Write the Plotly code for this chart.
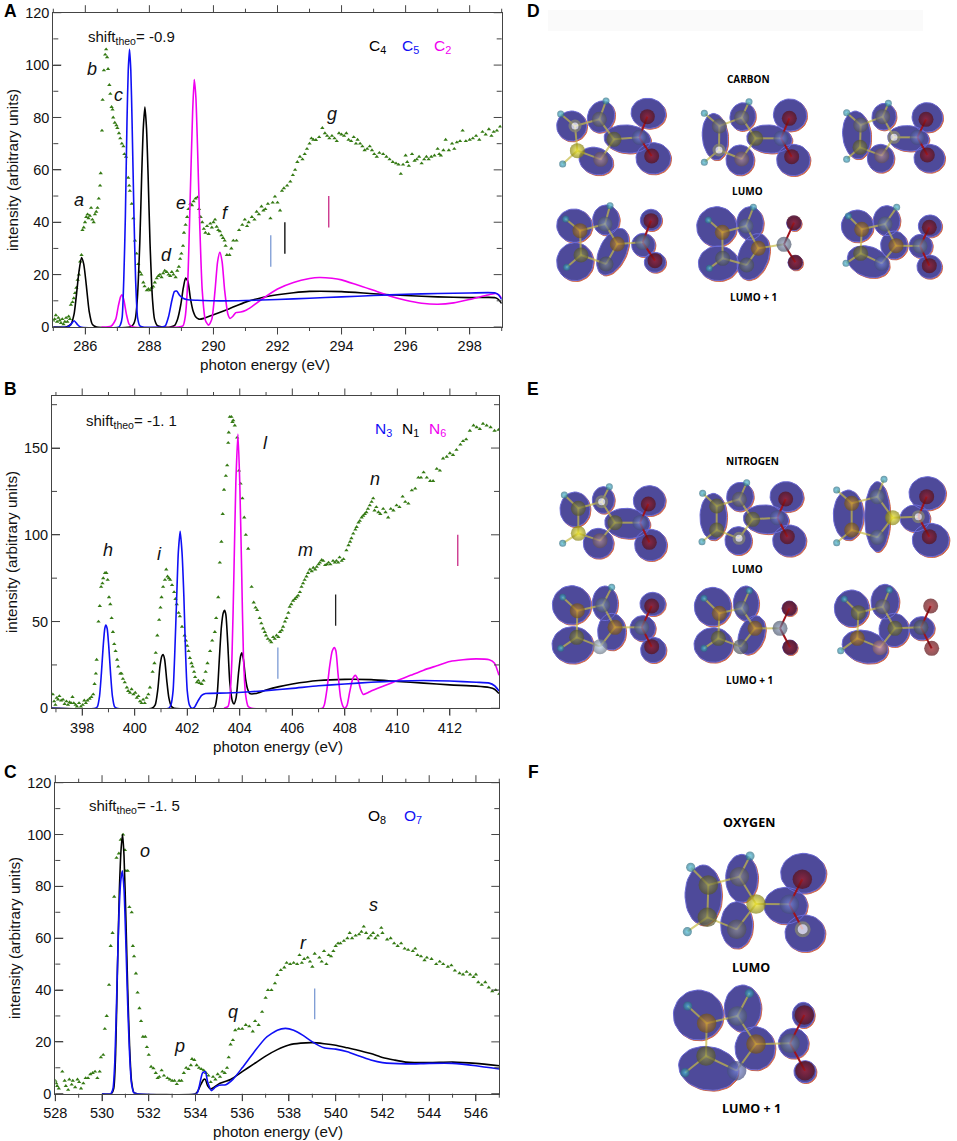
import numpy as np
import plotly.graph_objects as go

W, H = 957, 1141
BLACK, BLUE, MAG, GREEN = "#000000", "#1010f5", "#f000f0", "#357a14"
TK_BLUE, TK_RED = "#7c9bd4", "#c82a86"

# ---------- Panel A (carbon) ----------
A_exp = [(285.0,2.5),(285.04,3),(285.08,4.5),(285.12,2),(285.16,3.5),(285.2,2.5),(285.24,1.5),(285.28,3),(285.32,1),(285.36,2),(285.4,3.5),(285.44,2),(285.48,4),(285.52,3),(285.55,8.5),(285.6,9.5),(285.64,11),(285.68,13),(285.72,15),(285.76,18),(285.8,20),(285.84,25),(285.88,27.5),(285.91,37),(285.95,38),(285.99,40),(286.03,42),(286.07,43),(286.1,41.5),(286.14,42.5),(286.18,45.5),(286.22,41),(286.26,40),(286.3,43),(286.34,44),(286.38,45.5),(286.42,49),(286.46,54),(286.48,58.7),(286.52,75),(286.54,86.7),(286.58,98),(286.62,104),(286.65,106),(286.68,103),(286.71,98.5),(286.75,92.4),(286.78,89),(286.82,84),(286.85,83),(286.87,80),(286.92,78),(286.97,77),(287.0,76),(287.05,74),(287.09,72),(287.14,70),(287.19,69),(287.22,66),(287.27,65),(287.34,57),(287.37,54),(287.39,52),(287.45,47),(287.5,41.5),(287.55,33),(287.6,28),(287.65,24),(287.7,21),(287.75,20),(287.81,17),(287.85,15.5),(287.92,14),(287.97,14.5),(288.02,14),(288.07,15),(288.12,15.4),(288.17,17),(288.23,18.6),(288.28,19.5),(288.33,20),(288.38,19),(288.43,20.5),(288.48,21.5),(288.54,21),(288.6,20),(288.65,19.5),(288.7,21),(288.75,20),(288.82,19),(288.87,21.5),(288.92,23),(288.96,26),(289.0,28),(289.05,31),(289.08,36),(289.13,39),(289.18,42),(289.22,45),(289.28,47),(289.33,46.5),(289.38,48),(289.44,49),(289.5,49.5),(289.55,45),(289.6,42),(289.65,40),(289.7,37.5),(289.75,36),(289.8,38.5),(289.85,35.5),(289.9,39.5),(289.95,38),(290.0,40),(290.05,41),(290.1,38.3),(290.15,37),(290.2,36.5),(290.25,35),(290.3,34),(290.35,33),(290.38,31),(290.42,27.5),(290.5,27.5),(290.56,30),(290.62,33),(290.72,33),(290.8,37),(290.9,39),(290.98,41),(291.05,38.5),(291.1,40),(291.2,42),(291.28,41),(291.35,44),(291.42,43),(291.5,46),(291.56,44.5),(291.62,45),(291.7,47),(291.78,41.5),(291.85,47.5),(291.92,49.8),(292.0,47.5),(292.08,44.5),(292.14,52),(292.2,53),(292.3,54),(292.4,55.5),(292.48,58),(292.55,60),(292.62,63),(292.7,65),(292.78,64),(292.85,66),(292.92,68),(293.0,70),(293.06,72),(293.12,71.5),(293.2,71.4),(293.3,72.5),(293.4,76),(293.48,74),(293.55,73),(293.62,72),(293.7,73),(293.78,72),(293.85,71),(293.92,74),(294.0,73.5),(294.08,73),(294.15,74),(294.22,71.5),(294.3,71),(294.38,72.5),(294.45,70),(294.5,71.5),(294.58,70),(294.65,69),(294.72,67.5),(294.8,68),(294.88,69),(294.95,67.5),(295.02,66),(295.1,65),(295.18,66.5),(295.3,66),(295.4,65),(295.5,64),(295.6,63),(295.7,62.5),(295.78,62),(295.85,58.5),(295.92,62),(296.0,65.5),(296.05,63),(296.1,61.5),(296.2,66),(296.28,63.5),(296.35,64),(296.42,65),(296.5,62.5),(296.58,64),(296.65,65),(296.72,64),(296.8,65),(296.9,65.5),(297.0,68),(297.05,66),(297.1,65.5),(297.18,67.5),(297.25,71.5),(297.35,67.5),(297.45,70),(297.52,68),(297.6,70.5),(297.7,71),(297.78,75),(297.88,71),(298.0,71.5),(298.1,72),(298.2,73),(298.3,71.5),(298.4,74.5),(298.5,73.5),(298.6,75.5),(298.68,73),(298.75,74.5),(298.85,75),(298.95,76.5)]
A_C4 = [(285,0),(285.4,0),(285.55,1),(285.65,5),(285.72,12),(285.8,21),(285.88,26.5),(285.95,24),(286.03,16),(286.12,6),(286.22,1),(286.35,0),(287.4,0),(287.5,1),(287.56,3),(287.62,10),(287.7,32),(287.76,58),(287.81,76),(287.86,84),(287.91,76),(287.96,58),(288.02,32),(288.1,10),(288.16,3),(288.25,.5),(288.4,0),(288.65,0),(288.78,.5),(288.88,3),(288.98,8.5),(289.06,15),(289.13,18.7),(289.2,17.5),(289.28,11),(289.36,6.3),(289.45,3.8),(289.55,3),(289.7,3.3),(290,4.7),(290.5,7),(291,9.5),(291.5,11.2),(292,12.3),(292.5,13.1),(293,13.6),(294,13.5),(295,12.7),(296,12),(297,11.5),(298,11.2),(298.8,11.2),(298.9,10.5),(299,9)]
A_C5 = [(285,0),(285.45,0),(285.55,1),(285.65,2.4),(285.75,1),(285.85,0),(287.05,0),(287.1,1),(287.15,3.7),(287.2,18),(287.25,42),(287.3,78),(287.34,98),(287.38,106),(287.42,98),(287.46,78),(287.52,42),(287.57,18),(287.63,3.7),(287.7,.5),(287.8,0),(288.4,0),(288.5,.5),(288.6,4),(288.7,10),(288.78,13.5),(288.85,13.7),(288.95,12),(289.05,11),(289.2,10.4),(289.5,10.2),(290,10),(291,10.1),(292,10.5),(293,11),(294,11.5),(295,12),(296,12.5),(297,12.8),(298,13),(298.8,13),(298.9,12.3),(299,10.5)]
A_C2 = [(286.5,0),(286.8,.3),(286.95,3),(287.03,8),(287.1,11.5),(287.14,12.3),(287.2,10.5),(287.28,5),(287.37,1),(287.5,0),(288.9,0),(289.05,.5),(289.12,4),(289.2,18),(289.28,52),(289.35,82),(289.4,94.5),(289.45,88),(289.5,70),(289.57,40),(289.65,14),(289.75,2.5),(289.85,.7),(289.95,3),(290.05,14),(290.13,25),(290.2,28.5),(290.27,25),(290.35,14),(290.45,5),(290.52,3.3),(290.6,4),(290.7,5.5),(290.85,5.7),(291,6.3),(291.2,7.8),(291.5,10.5),(292,14.5),(292.5,17),(293,18.5),(293.3,18.9),(293.7,18.6),(294,18),(294.5,16),(295,14),(295.5,11.8),(296,10.2),(296.5,9.1),(297,8.7),(297.5,9.2),(298,10.5),(298.5,12),(298.8,12.8),(298.9,12.3),(299,11)]
A_marks = [(291.79,23,35,TK_BLUE),(292.23,28,40,BLACK),(293.6,38,50,TK_RED)]
A_letters = [("a",285.81,48.5),("b",286.2,98.4),("c",287.03,88.6),("d",288.52,27.5),("e",289.0,47.2),("f",290.39,43.4),("g",293.69,81.3)]

# ---------- Panel B (nitrogen) ----------
B_exp = [(396.88,8),(396.93,4),(396.98,2),(397.03,6),(397.08,5),(397.13,7),(397.2,4.5),(397.27,5),(397.33,2.5),(397.4,4),(397.46,2),(397.52,3.5),(397.58,3),(397.63,6.5),(397.68,3),(397.75,2),(397.8,1),(397.88,3),(397.95,1),(398.02,2),(398.08,4.5),(398.14,3),(398.2,4.5),(398.28,5.5),(398.35,6.5),(398.42,8),(398.47,14),(398.52,20),(398.55,28),(398.62,50),(398.67,59),(398.72,70),(398.77,72),(398.8,75),(398.87,78),(398.92,78),(398.97,74),(399.02,64),(399.07,60),(399.12,52),(399.17,44),(399.22,37),(399.27,33),(399.33,28),(399.37,24),(399.45,20),(399.5,20),(399.55,17),(399.62,15),(399.7,12),(399.75,10),(399.82,9),(399.88,11),(399.95,8),(400.02,9),(400.08,6),(400.14,7),(400.2,4),(400.26,3),(400.32,5),(400.38,3),(400.45,6),(400.52,8),(400.58,12),(400.68,21),(400.75,26),(400.8,32),(400.86,42),(400.93,51),(400.98,58),(401.02,64),(401.08,70),(401.15,74),(401.2,80),(401.25,76),(401.3,75),(401.35,74),(401.42,71),(401.5,67),(401.55,63),(401.6,60),(401.67,55),(401.72,53),(401.8,47),(401.9,42),(401.95,39),(402.0,36),(402.05,33),(402.1,29),(402.16,26),(402.2,24),(402.26,21),(402.3,18),(402.37,15),(402.42,16),(402.47,14.5),(402.55,14),(402.62,16),(402.7,21),(402.77,26),(402.87,33),(402.95,39),(403.05,44),(403.1,52),(403.18,64),(403.24,84),(403.3,96),(403.35,112),(403.4,126),(403.47,134),(403.52,140),(403.56,153),(403.58,159),(403.62,168),(403.68,168),(403.72,165),(403.75,166),(403.81,163),(403.9,156),(403.97,137),(404.03,129.5),(404.1,121),(404.17,110),(404.23,100),(404.32,92),(404.45,70),(404.53,61),(404.6,58),(404.66,56.6),(404.76,52),(404.82,49),(404.89,46),(404.95,44),(405,42),(405.07,40),(405.15,39),(405.2,38),(405.27,41),(405.33,40),(405.4,42),(405.47,41),(405.53,44),(405.6,45),(405.65,47),(405.72,50),(405.78,52),(405.85,55),(405.9,58.5),(405.96,60),(406.03,62),(406.1,63),(406.16,64),(406.22,65),(406.29,67),(406.35,70),(406.41,72),(406.47,74),(406.54,76),(406.6,78),(406.67,80),(406.74,79),(406.8,81),(406.87,80),(406.93,81.5),(407.0,83),(407.05,84),(407.12,85.5),(407.18,85),(407.25,82.5),(407.32,83),(407.38,84),(407.45,83),(407.55,85),(407.62,84),(407.68,85),(407.75,84),(407.8,87),(407.88,85),(407.95,86),(408.06,91),(408.14,94),(408.2,96),(408.25,98),(408.32,100.7),(408.4,103),(408.45,104.5),(408.52,107),(408.57,108),(408.64,110),(408.7,111),(408.76,112),(408.82,113),(408.88,115),(408.95,117),(409.02,119),(409.08,121),(409.13,114),(409.2,116),(409.28,113),(409.35,112),(409.46,115),(409.55,113),(409.65,110),(409.75,115),(409.85,114),(409.97,117),(410.08,116),(410.2,122),(410.3,119),(410.42,118),(410.55,125.6),(410.68,126.6),(410.8,133),(410.9,133),(411,136),(411.12,133),(411.25,131),(411.36,131),(411.5,138),(411.62,137),(411.74,144),(411.88,145),(412.0,147),(412.12,146),(412.25,149),(412.4,152),(412.5,154),(412.62,155),(412.76,160),(412.9,163),(413.02,162),(413.14,161),(413.26,164),(413.4,163),(413.55,162),(413.7,160),(413.85,160.5)]
B_N3 = [(396.85,0),(398.5,0),(398.58,1),(398.66,7),(398.73,20),(398.8,36),(398.86,46),(398.9,48),(398.95,46),(399.01,36),(399.08,20),(399.15,7),(399.23,1),(399.32,0),(401.3,0),(401.38,2),(401.46,10),(401.52,30),(401.6,65),(401.66,90),(401.73,102),(401.8,90),(401.87,65),(401.94,30),(402.0,10),(402.08,2),(402.18,0),(402.27,.5),(402.4,4),(402.55,7.5),(402.7,8.5),(403.5,8.8),(404.4,9.5),(405,10.2),(406,11.5),(407,13),(408,14),(409,15),(410,15.7),(411,16),(412,15.7),(413,15),(413.5,14.5),(413.7,13),(413.87,10)]
B_N1 = [(396.85,0),(400.65,0),(400.78,2),(400.88,11),(400.96,24),(401.03,30),(401.08,31),(401.14,28),(401.22,16),(401.3,6),(401.4,1),(401.5,0),(403.0,0),(403.06,1),(403.14,8),(403.22,28),(403.3,47),(403.37,55),(403.42,56.5),(403.47,54),(403.54,38),(403.62,15),(403.72,4),(403.78,2.5),(403.86,6),(403.95,20),(404.03,30),(404.08,32),(404.14,28),(404.22,17),(404.3,11),(404.38,8.5),(404.6,8.5),(405,10.5),(405.5,12.5),(406,14),(407,16),(408,16.7),(409,16.5),(410,15.5),(411,14.5),(412,13.5),(413,12.8),(413.5,12),(413.7,11),(413.87,8.5)]
B_N6 = [(403.4,0),(403.55,1),(403.62,6),(403.7,28),(403.78,80),(403.85,130),(403.93,158),(404.0,130),(404.07,80),(404.14,30),(404.22,8),(404.32,1),(404.45,0),(407.15,0),(407.22,2),(407.32,11),(407.42,24),(407.52,33),(407.6,35),(407.66,33),(407.74,20),(407.84,6),(407.94,.8),(408.0,0),(408.08,1.5),(408.18,9),(408.3,17),(408.4,19),(408.5,16.5),(408.6,11),(408.7,8),(408.85,8.8),(409,10),(409.5,13),(410,16),(410.5,19),(411,22),(411.5,24.5),(412,27),(412.5,28),(413,28.5),(413.5,28),(413.7,26),(413.87,19)]
B_marks = [(405.45,17,35,TK_BLUE),(407.65,47.6,65.6,"#222222"),(412.3,82,100,TK_RED)]
B_letters = [("h",398.99,91),("i",400.93,89),("l",404.98,153),("m",406.52,91),("n",409.14,132)]

# ---------- Panel C (oxygen) ----------
C_exp = [(528,5),(528.04,4),(528.08,3),(528.15,2),(528.3,8.5),(528.4,5),(528.45,3),(528.55,1.5),(528.6,5.5),(528.7,3.5),(528.75,5),(528.85,2.5),(528.95,5.5),(529.02,4.5),(529.1,2),(529.2,4),(529.3,6),(529.4,6),(529.5,7.5),(529.6,8),(529.7,8.5),(529.8,6),(529.9,8.5),(529.95,14),(530.05,15),(530.12,25),(530.2,30),(530.3,42),(530.37,57),(530.45,62),(530.52,76),(530.62,91),(530.72,92.7),(530.8,98),(530.9,100),(530.98,94),(531.02,86),(531.1,86),(531.17,72),(531.27,70),(531.32,57),(531.37,53),(531.45,46.4),(531.52,39),(531.6,33),(531.67,28),(531.75,22),(531.85,22),(531.92,18),(532,15),(532.1,10.4),(532.2,9.8),(532.3,8),(532.38,6),(532.45,6.5),(532.55,9),(532.65,7),(532.8,6),(532.9,5.5),(533,5),(533.1,5),(533.2,3.7),(533.3,5),(533.4,5),(533.5,8),(533.6,10),(533.7,9.5),(533.8,11),(533.85,13.4),(533.95,13),(534.05,11),(534.15,10),(534.25,9.5),(534.35,9),(534.45,8),(534.55,7),(534.65,4.5),(534.75,6.5),(534.85,5.5),(534.95,7.5),(535.05,6.5),(535.15,8.5),(535.25,8),(535.35,10),(535.42,14),(535.5,19),(535.6,20.7),(535.7,24.5),(535.85,25),(536,25),(536.15,26.5),(536.3,26),(536.45,24),(536.55,28),(536.7,26.5),(536.85,31.6),(537,37),(537.1,40),(537.25,40),(537.4,42.6),(537.5,45.8),(537.65,47.7),(537.8,48.7),(537.9,50.5),(538.05,50),(538.2,50.5),(538.35,50),(538.45,53.5),(538.55,50.5),(538.65,52),(538.8,52.5),(538.9,51),(539.0,49),(539.1,54),(539.3,52.5),(539.4,51),(539.5,55),(539.6,50),(539.7,53.5),(539.8,53),(539.9,55),(540,57),(540.1,58),(540.2,58),(540.35,59),(540.5,60),(540.6,62),(540.7,60),(540.85,61),(541,61.5),(541.1,62.5),(541.2,64.5),(541.3,62),(541.4,60),(541.5,61),(541.6,62),(541.7,60),(541.8,61),(541.95,64),(542,62),(542.2,59.5),(542.35,60),(542.5,58),(542.65,57),(542.8,58),(542.95,56),(543.1,55.5),(543.3,55),(543.4,56),(543.5,53.5),(543.65,53),(543.8,51.5),(543.9,52.5),(544.1,52),(544.3,50),(544.45,51),(544.6,50),(544.8,49),(544.95,49.5),(545.1,47.5),(545.3,46.5),(545.45,46),(545.6,47),(545.75,46),(545.9,45),(546,46),(546.1,43),(546.25,42),(546.4,43),(546.55,41),(546.7,39.5),(546.85,40),(547,38.5)]
C_O8 = [(530,0),(530.4,0),(530.5,2),(530.58,15),(530.66,48),(530.74,78),(530.82,95),(530.88,100),(530.94,92),(531.02,68),(531.1,40),(531.18,18),(531.26,5),(531.36,.5),(531.5,0),(534,0),(534.1,1),(534.2,3),(534.35,5.5),(534.42,5.5),(534.52,3),(534.65,1.8),(534.8,2.5),(535,3.8),(535.5,5.5),(536,8.5),(536.5,11.5),(537,14.5),(537.5,17),(538,18.8),(538.5,19.5),(539,19.7),(539.5,19.3),(540,18.7),(540.5,17.7),(541,16.7),(541.5,15.5),(542,14),(542.5,13),(543,12.2),(544,12),(545,12.2),(546,11.7),(547,10.8)]
C_O7 = [(530,0),(530.38,0),(530.47,2),(530.55,13),(530.64,42),(530.72,68),(530.8,82),(530.87,86),(530.94,79),(531.02,58),(531.1,34),(531.18,15),(531.26,4),(531.36,.4),(531.5,0),(534.05,0),(534.15,2.5),(534.3,8),(534.42,8.5),(534.52,4.5),(534.68,1.2),(534.85,2.5),(535,3.3),(535.3,3.5),(535.6,5.5),(536,10),(536.5,16),(537,21.5),(537.5,24.5),(537.85,25.2),(538.2,24.5),(538.6,22.5),(539,20),(539.5,17.7),(540,17.2),(540.5,16.2),(541,14.5),(541.5,13),(542,12),(543,11.5),(544,11.7),(545,11.7),(546,10.8),(547,9.5)]
C_marks = [(539.1,28.7,40.6,TK_BLUE)]
C_letters = [("o",531.84,93.8),("p",533.3,18.4),("q",535.6,31.6),("r",538.6,58),("s",541.6,72.8)]

# ---------- Molecule illustrations (1/3 px units from each panel's origin) ----------
ATOM = {"H":"#4fc4e6","o":"#9a9a50","g":"#96969c","p":"#b8949f","b":"#7c8ce4","s":"#8a9cc0","r":"#a01820",
        "O":"#d09430","y":"#f0e820","w":"#ffffff","l":"#bcd2ec","k":"#e8a8b0","v":"#828c98"}
MOLS_D = [
 ([(155,378,45,45,0),(243,350,40,48,20),(228,483,52,40,20),(322,417,70,42,5),(385,340,52,45,10),(400,475,52,47,0)],
  [(122,342,"H"),(165,378,"w"),(172,452,"y"),(128,492,"H"),(238,358,"g"),(258,303,"H"),(242,478,"p"),(282,418,"o"),(358,412,"b"),(382,350,"r"),(395,468,"r")]),
 ([(585,410,38,70,-5),(668,350,38,42,15),(660,480,42,45,0),(748,417,68,42,5),(810,345,50,48,15),(820,480,50,47,0)],
  [(553,340,"H"),(598,378,"g"),(597,450,"w"),(553,487,"H"),(665,353,"g"),(687,305,"H"),(665,477,"p"),(707,415,"o"),(783,415,"b"),(808,355,"r"),(815,470,"r")]),
 ([(1010,405,42,72,-5),(1092,350,36,40,10),(1082,475,40,42,0),(1165,415,62,38,5),(1222,352,46,44,15),(1228,475,46,42,0)],
  [(980,338,"H"),(1022,375,"g"),(1020,442,"o"),(980,478,"H"),(1088,350,"g"),(1105,310,"H"),(1085,467,"p"),(1122,412,"w"),(1192,412,"b"),(1218,358,"r"),(1222,465,"r")]),
 ([(163,677,53,50,10),(258,660,40,45,0),(165,785,55,57,0),(278,755,40,75,25),(370,735,35,35,0),(393,660,32,32,0),(405,787,32,30,0)],
  [(137,657,"H"),(180,692,"O"),(183,765,"o"),(140,802,"H"),(255,672,"s"),(270,617,"H"),(258,792,"v"),(292,732,"O"),(368,727,"s"),(393,662,"r"),(405,782,"r")]),
 ([(590,680,60,60,0),(690,670,40,50,0),(595,790,60,52,0),(700,770,45,72,20),(822,670,22,22,0),(826,788,22,22,0)],
  [(565,660,"H"),(607,697,"O"),(608,775,"v"),(568,805,"H"),(678,678,"s"),(700,622,"H"),(680,795,"v"),(715,745,"O"),(792,733,"s"),(822,668,"r"),(826,787,"r")]),
 ([(1012,678,48,48,0),(1100,662,40,45,0),(1045,785,65,45,20),(1122,735,40,42,0),(1202,738,35,35,0),(1230,678,35,33,0),(1228,800,37,35,0)],
  [(985,648,"H"),(1025,688,"O"),(1022,760,"o"),(978,790,"H"),(1095,672,"s"),(1130,622,"H"),(1085,790,"b"),(1128,737,"O"),(1200,738,"s"),(1228,682,"r"),(1228,797,"r")]),
]
MOLS_E = [
 ([(165,388,45,52,0),(250,360,33,40,0),(235,490,45,45,0),(322,430,68,45,5),(388,362,48,45,0),(392,495,48,47,0)],
  [(133,345,"H"),(175,385,"o"),(175,460,"y"),(128,490,"H"),(245,365,"w"),(268,320,"H"),(240,482,"p"),(285,428,"o"),(360,428,"b"),(385,372,"r"),(388,487,"r")]),
 ([(580,410,40,70,0),(660,350,40,43,10),(655,482,40,42,0),(738,418,68,43,5),(800,350,50,45,10),(808,482,50,47,0)],
  [(548,340,"H"),(590,378,"o"),(590,450,"o"),(546,485,"H"),(658,358,"g"),(680,308,"H"),(657,475,"w"),(698,418,"o"),(772,413,"b"),(797,357,"r"),(802,470,"r")]),
 ([(985,405,45,75,0),(1072,410,38,105,0),(1185,415,45,40,0),(1222,340,55,50,0),(1232,480,55,50,0)],
  [(950,330,"H"),(995,370,"O"),(995,450,"O"),(950,488,"H"),(1072,350,"s"),(1092,298,"H"),(1072,472,"s"),(1118,413,"y"),(1195,410,"w"),(1220,350,"r"),(1228,470,"r")]),
 ([(155,675,58,58,0),(255,670,38,52,0),(158,795,62,55,0),(275,755,42,55,0),(368,745,38,38,0),(398,672,38,35,0),(400,810,38,38,0)],
  [(128,652,"H"),(172,692,"O"),(170,772,"o"),(122,805,"H"),(248,675,"s"),(275,622,"H"),(240,800,"l"),(285,742,"O"),(365,742,"s"),(395,678,"r"),(395,800,"r")]),
 ([(578,680,55,58,0),(678,670,38,52,0),(580,795,58,52,0),(695,765,38,60,20),(808,685,22,22,0),(810,802,22,22,0)],
  [(552,655,"H"),(598,700,"O"),(595,775,"o"),(552,805,"H"),(665,685,"s"),(688,632,"H"),(662,800,"v"),(705,745,"O"),(780,745,"s"),(808,685,"r"),(810,802,"r")]),
 ([(995,685,52,55,0),(1095,665,42,52,0),(1035,800,70,48,15),(1122,750,45,50,0),(1205,745,38,35,0)],
  [(973,657,"H"),(1015,698,"o"),(1012,775,"O"),(962,812,"H"),(1088,680,"g"),(1108,630,"H"),(1080,803,"k"),(1125,745,"o"),(1203,742,"v"),(1232,678,"r"),(1235,805,"r")]),
]
MOLS_F = [
 ([(250,405,55,90,0),(365,355,48,72,0),(350,495,48,70,0),(497,437,65,55,0),(550,340,68,60,0),(555,520,60,55,0)],
  [(212,322,"H"),(265,375,"o"),(262,472,"o"),(202,515,"H"),(358,350,"g"),(390,288,"H"),(350,508,"g"),(408,432,"y"),(508,433,"b"),(547,358,"r"),(548,508,"w")]),
 ([(235,765,75,75,0),(368,745,55,70,0),(265,925,90,65,10),(405,865,60,65,0),(520,850,45,45,0),(550,765,33,38,0),(555,935,33,33,0)],
  [(203,738,"H"),(260,790,"O"),(258,888,"o"),(195,938,"H"),(352,768,"s"),(388,700,"H"),(350,932,"b"),(408,852,"O"),(510,850,"s"),(553,765,"r"),(555,932,"r")]),
]
BONDS = [(0,1),(1,2),(2,3),(1,4),(4,5),(2,6),(4,7),(6,7),(7,8)]
O_BONDS = [(8,9),(8,10)]
PAGE_TEXT = [("CARBON",748,79,10),("LUMO",747,191,10),("LUMO + 1",753,297,10),
             ("NITROGEN",752,461,10),("LUMO",747,569,10),("LUMO + 1",749,680,10),
             ("OXYGEN",749,822,12.5),("LUMO",751,967,12.5),("LUMO + 1",751,1108,12.5)]

fig = go.Figure()

def unz(pts):
    return [p[0] for p in pts], [p[1] for p in pts]

def add_panel(n, exp, curves, marks, letters):
    sfx = "" if n == 1 else str(n)
    xa, ya = f"x{sfx}", f"y{sfx}"
    ex, ey = unz(exp)
    fig.add_trace(go.Scatter(x=ex, y=ey, mode="markers", xaxis=xa, yaxis=ya, showlegend=False, hoverinfo="skip",
                             marker=dict(symbol="triangle-up", size=3.8, color=GREEN, line=dict(width=0))))
    for pts, col in curves:
        cx, cy = unz(pts)
        fig.add_trace(go.Scatter(x=cx, y=cy, mode="lines", xaxis=xa, yaxis=ya, showlegend=False, hoverinfo="skip",
                                 line=dict(color=col, width=1.6, shape="spline", smoothing=0.6)))
    for mx, y0, y1, col in marks:
        fig.add_trace(go.Scatter(x=[mx, mx], y=[y0, y1], mode="lines", xaxis=xa, yaxis=ya, showlegend=False,
                                 hoverinfo="skip", line=dict(color=col, width=1.3)))
    for t, lx, ly in letters:
        fig.add_annotation(x=lx, y=ly, xref=xa, yref=ya, text=f"<i>{t}</i>", showarrow=False,
                           font=dict(family="Liberation Sans", size=18, color="#111111"))

add_panel(1, A_exp, [(A_C4, BLACK), (A_C2, MAG), (A_C5, BLUE)], A_marks, A_letters)
add_panel(2, B_exp, [(B_N1, BLACK), (B_N6, MAG), (B_N3, BLUE)], B_marks, B_letters)
add_panel(3, C_exp, [(C_O8, BLACK), (C_O7, BLUE)], C_marks, C_letters)

FRAME = "#444444"
def style_axes(n, xr, yr, ypx, xpx, ydtick, yminor, xdtick=2):
    tick = dict(family="Liberation Sans", size=14.5, color="#111111")
    sfx = "" if n == 1 else str(n)
    fig.update_layout(**{
        f"xaxis{sfx}": dict(anchor=f"y{sfx}", showline=True, linecolor=FRAME, linewidth=1, mirror=True, tickfont=tick,
                            domain=[xpx[0]/W, xpx[1]/W], range=xr, dtick=xdtick, tick0=0, ticks="outside", ticklen=6,
                            tickwidth=1, tickcolor=FRAME, showgrid=False, zeroline=False),
        f"yaxis{sfx}": dict(anchor=f"x{sfx}", showline=True, linecolor=FRAME, linewidth=1, mirror=True, tickfont=tick,
                            domain=[1-ypx[1]/H, 1-ypx[0]/H], range=yr, dtick=ydtick, tick0=0, ticks="inside", ticklen=8,
                            tickwidth=1, tickcolor=FRAME, showgrid=False, zeroline=False),
    })
    # frame ticks on all four edges, from the panel's own scale
    X, Y = [], []
    def sx(v): return xpx[0] + (v - xr[0]) / (xr[1] - xr[0]) * (xpx[1] - xpx[0])
    def sy(v): return ypx[1] - (v - yr[0]) / (yr[1] - yr[0]) * (ypx[1] - ypx[0])
    for v in np.arange(np.ceil(xr[0]), xr[1] + 1e-6, 1.0):
        ln = 7.5 if v % xdtick == 0 else 4
        px = sx(v)
        X += [px, px, None, px, px, None]
        Y += [ypx[1], ypx[1] + ln, None, ypx[0], ypx[0] - ln, None]
    for v in np.arange(yr[0], yr[1] + 1e-6, yminor):
        ln = 8 if v % ydtick == 0 else 5
        py = sy(v)
        X += [xpx[0], xpx[0] + ln, None, xpx[1], xpx[1] - ln, None]
        Y += [py, py, None, py, py, None]
    fig.add_trace(go.Scatter(x=X, y=Y, mode="lines", xaxis="x4", yaxis="y4", showlegend=False, hoverinfo="skip",
                             line=dict(color=FRAME, width=1)))

# page-level axis in pixels, for the illustrations, frame ticks and page text
fig.update_layout(xaxis4=dict(domain=[0, 1], range=[0, W], visible=False, anchor="y4"),
                  yaxis4=dict(domain=[0, 1], range=[H, 0], visible=False, anchor="x4"))

style_axes(1, [285, 299], [0, 120], (12.7, 327), (53.3, 501.7), 20, 10)
style_axes(2, [396.85, 413.87], [0, 180], (396, 708.3), (52, 499), 50, 25)
style_axes(3, [528, 547], [0, 120], (782.7, 1093.7), (55.3, 499.3), 20, 10)

def ellipse(cx, cy, rx, ry, ang, ox, oy, dx=0, dy=0):
    t = np.linspace(0, 2*np.pi, 40)
    a = np.deg2rad(ang)
    ex, ey = rx*np.cos(t), ry*np.sin(t)
    return (ox + (cx + ex*np.cos(a) - ey*np.sin(a))/3 + dx).tolist() + [None], \
           (oy + (cy + ex*np.sin(a) + ey*np.cos(a))/3 + dy).tolist() + [None]

def dark(hexcol, f=0.55):
    r, g, b = int(hexcol[1:3], 16), int(hexcol[3:5], 16), int(hexcol[5:7], 16)
    return f"rgb({int(r*f)},{int(g*f)},{int(b*f)})"

def add_mols(mols, ox, oy, k=1.0):
    for lobes, atoms in mols:
        for dx, dy, col, lc in ((0.9, 0.9, "#d0684a", "#d0684a"), (0, 0, "#4e4a9a", "#6a6ad6")):
            X, Y = [], []
            for l in lobes:
                a, b = ellipse(*l, ox, oy, dx, dy)
                X += a; Y += b
            fig.add_trace(go.Scatter(x=X, y=Y, mode="lines", fill="toself", fillcolor=col, xaxis="x4", yaxis="y4",
                                     line=dict(color=lc, width=1), showlegend=False, hoverinfo="skip"))
        ax = [ox + p[0]/3 for p in atoms]
        ay = [oy + p[1]/3 for p in atoms]
        for bonds, col in ((BONDS, "rgba(200,188,70,0.7)"), (O_BONDS, "#a0141c")):
            X, Y = [], []
            for i, j in bonds:
                X += [ax[i], ax[j], None]; Y += [ay[i], ay[j], None]
            fig.add_trace(go.Scatter(x=X, y=Y, mode="lines", xaxis="x4", yaxis="y4",
                                     line=dict(color=col, width=2), showlegend=False, hoverinfo="skip"))
        codes = [p[2] for p in atoms]
        fig.add_trace(go.Scatter(x=ax, y=ay, mode="markers", xaxis="x4", yaxis="y4", showlegend=False, hoverinfo="skip",
                                 marker=dict(color=[ATOM[c] if c == "w" else dark(ATOM[c]) for c in codes],
                                             gradient=dict(type="radial", color=[ATOM[c] for c in codes]),
                                             size=[7*k if c == "H" else (10*k if c == "w" else 15*k) for c in codes],
                                             line=dict(color=["#8a8a70" if c == "w" else "rgba(0,0,0,0)" for c in codes],
                                                       width=[3 if c == "w" else 0 for c in codes]))))

add_mols(MOLS_D, 520, 0)
add_mols(MOLS_E, 520, 380)
add_mols(MOLS_F, 620, 760, 1.3)

def page_text(t, x, y, size, color="#111111", fam="Liberation Sans", anchor="center", angle=0):
    fig.add_annotation(x=x, y=y, xref="x4", yref="y4", text=t, showarrow=False, xanchor=anchor, textangle=angle,
                       font=dict(family=fam, size=size, color=color))

for t, x, y, s in PAGE_TEXT:
    page_text(f"<b>{t}</b>", x, y, s, color="#000000", fam="Open Sans")

for t, x, y in (("A",10,11),("B",10,389),("C",10,772),("D",533,11),("E",533,389),("F",533,772)):
    page_text(f"<b>{t}</b>", x, y, 17.5, color="#000000")

page_text("intensity (arbitrary units)", 12, 170, 15.2, angle=-90)
page_text("intensity (arbitrary units)", 11, 552, 15.2, angle=-90)
page_text("intensity (arbitrary units)", 14, 938, 15.2, angle=-90)
page_text("photon energy (eV)", 265, 364, 15.2)
page_text("photon energy (eV)", 278, 746, 15.2)
page_text("photon energy (eV)", 278, 1131, 15.2)

page_text("shift<sub>theo</sub>= -0.9", 86, 37, 15, anchor="left")
page_text("shift<sub>theo</sub>= -1. 1", 84, 421, 15, anchor="left")
page_text("shift<sub>theo</sub>= -1. 5", 87, 806, 15, anchor="left")
for t, x, y, c in (("C<sub>4</sub>",367,46,BLACK),("C<sub>5</sub>",400,46,BLUE),("C<sub>2</sub>",432,46,MAG),
                   ("N<sub>3</sub>",373,429,BLUE),("N<sub>1</sub>",400,429,BLACK),("N<sub>6</sub>",427,429,MAG),
                   ("O<sub>8</sub>",366,816,BLACK),("O<sub>7</sub>",402,816,BLUE)):
    page_text(t, x, y, 15.5, color=c, anchor="left")

fig.add_shape(type="rect", xref="x4", yref="y4", x0=548, x1=923, y0=10, y1=31, fillcolor="#fafafa",
              line=dict(width=0), layer="below")

fig.update_layout(width=W, height=H, margin=dict(l=0, r=0, t=0, b=0, pad=0, autoexpand=False), paper_bgcolor="white",
                  plot_bgcolor="rgba(0,0,0,0)", showlegend=False)
fig.write_html("out.html", config=dict(displayModeBar=False), post_script="document.body.style.margin='0';")
